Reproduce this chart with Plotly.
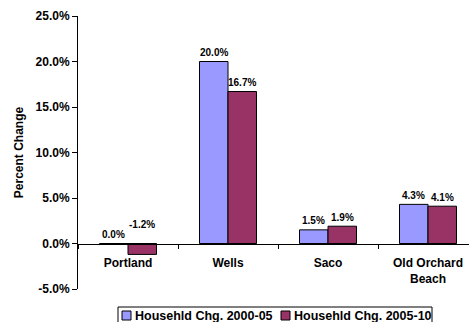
import plotly.graph_objects as go

categories = ["Portland", "Wells", "Saco", "Old Orchard<br>Beach"]
chg_2000_05 = [0.0, 20.0, 1.5, 4.3]
chg_2005_10 = [-1.2, 16.7, 1.9, 4.1]
series_names = ["Househld Chg. 2000-05", "Househld Chg. 2005-10"]
y_ticks = [-5, 0, 5, 10, 15, 20, 25]

FONT = "Liberation Sans, Arial, sans-serif"
colors = ["#9999FF", "#993366"]

W, H = 469, 322
L, R, T, B = 78, 0, 16, 33
PW, PH = W - L - R, H - T - B


def px_x(x):
    return (x - L) / PW


def px_y(y):
    return (H - B - y) / PH


fig = go.Figure()
for name, vals, col in zip(series_names, [chg_2000_05, chg_2005_10], colors):
    fig.add_trace(go.Bar(
        x=categories, y=vals, name=name, showlegend=False,
        marker=dict(color=col, line=dict(color="black", width=1)),
    ))

# value labels above each bar (negative values placed above the baseline)
half_bar = 14.25
for vals, dx in [(chg_2000_05, -half_bar), (chg_2005_10, half_bar)]:
    for cat, v in zip(categories, vals):
        fig.add_annotation(
            x=cat, y=max(v, 0), text=f"{v:.1f}%", showarrow=False,
            xshift=dx, yshift=(19 if v < 0 else 9), yanchor="middle",
            font=dict(family=FONT, size=10, color="black", weight="bold"),
        )

# legend box below the plot
fig.add_shape(type="rect", xref="paper", yref="paper",
              x0=px_x(118), x1=px_x(432), y0=px_y(307), y1=px_y(330),
              line=dict(color="black", width=1), fillcolor="white")
legend_items = [(122, 133), (281, 292)]
for (sx, tx), name, col in zip(legend_items, series_names, colors):
    fig.add_shape(type="rect", xref="paper", yref="paper",
                  x0=px_x(sx), x1=px_x(sx + 9), y0=px_y(311), y1=px_y(320),
                  line=dict(color="black", width=1), fillcolor=col)
    fig.add_annotation(xref="paper", yref="paper", x=px_x(tx), y=px_y(315.5),
                       text=name, showarrow=False, xanchor="left",
                       yanchor="middle",
                       font=dict(family=FONT, size=12.5, color="black",
                                 weight="bold"))

zero_pos = 5 / 30
fig.update_layout(
    width=W, height=H,
    margin=dict(l=L, r=R, t=T, b=B, autoexpand=False),
    paper_bgcolor="white", plot_bgcolor="white",
    barmode="group", bargap=0.43, bargroupgap=0,
    font=dict(family=FONT, size=12, color="black"),
    showlegend=False,
    xaxis=dict(
        range=[-0.5, 3.41], anchor="free", position=zero_pos,
        showline=True, linecolor="black", linewidth=1,
        ticks="outside", ticklen=4, tickcolor="black", tickson="boundaries",
        ticklabelstandoff=8,
        tickfont=dict(family=FONT, size=12, color="black", weight="bold"),
        showgrid=False, zeroline=False,
    ),
    yaxis=dict(
        range=[-5, 25], tickvals=y_ticks,
        ticktext=[f"{t:.1f}%" for t in y_ticks],
        showline=True, linecolor="black", linewidth=1,
        ticks="outside", ticklen=5, tickcolor="black",
        tickfont=dict(family=FONT, size=12, color="black", weight="bold"),
        showgrid=False, zeroline=False,
        title=dict(text="Percent Change", standoff=9,
                   font=dict(family=FONT, size=12, color="black", weight="bold")),
    ),
)

fig.write_html("out.html")
